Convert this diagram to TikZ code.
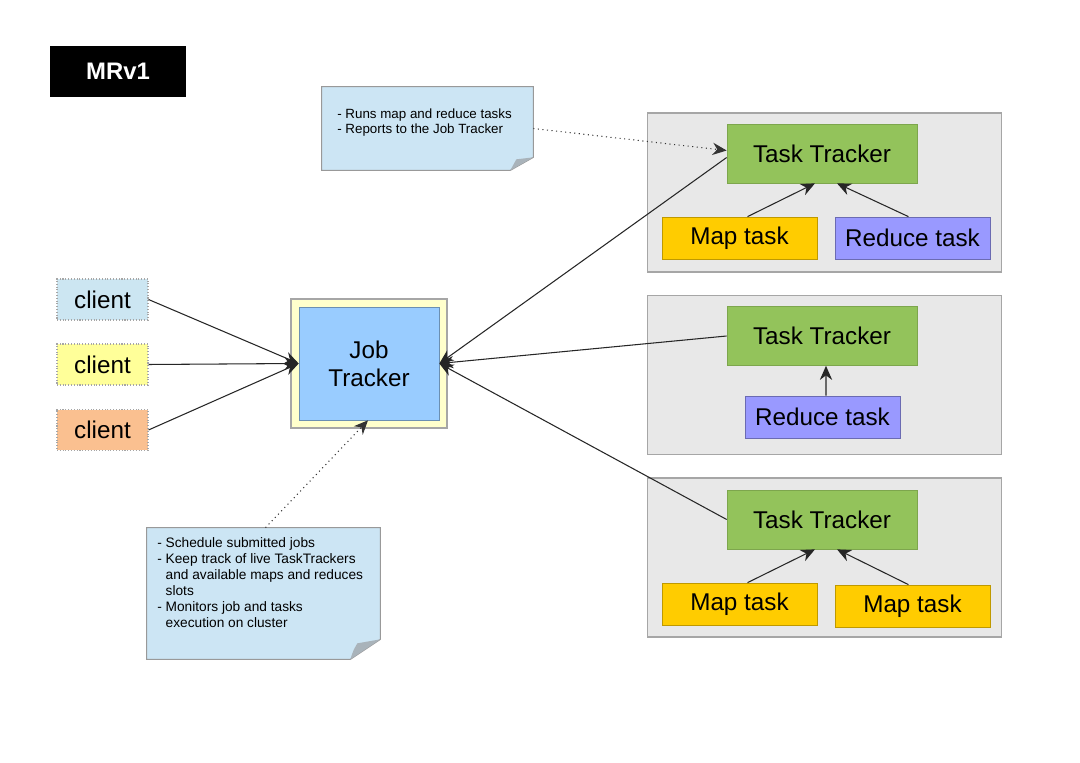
\documentclass[tikz,border=0pt]{standalone}
\usepackage{fontspec}
\setmainfont{Liberation Sans}
\usetikzlibrary{arrows.meta,calc}
\definecolor{grpfill}{HTML}{E8E8E8}
\definecolor{grpdraw}{HTML}{A6A6A6}
\definecolor{ttgreen}{HTML}{93C35B}
\definecolor{mapgold}{HTML}{FFCC00}
\definecolor{redpurple}{HTML}{9999FF}
\definecolor{jtblue}{HTML}{99CCFF}
\definecolor{jtyellow}{HTML}{FFFFCC}
\definecolor{notefill}{HTML}{CCE5F4}
\definecolor{foldfill}{HTML}{A9B3BA}
\definecolor{cblue}{HTML}{CCE6F2}
\definecolor{cyellow}{HTML}{FFFF99}
\definecolor{corange}{HTML}{FAC090}
\tikzset{
  bigfont/.style={font=\fontsize{13.8}{16}\selectfont},
  grp/.style={draw=grpdraw, fill=grpfill, line width=0.6pt, minimum width=7.1cm, minimum height=3.18cm, inner sep=0},
  tt/.style={bigfont, fill=ttgreen, draw=ttgreen!85!black, line width=0.4pt, minimum width=3.8cm, minimum height=1.18cm, inner sep=0},
  maptask/.style={bigfont, fill=mapgold, draw=mapgold!75!black, line width=0.4pt, minimum width=3.1cm, minimum height=0.84cm, inner sep=0},
  redtask/.style={bigfont, fill=redpurple, draw=redpurple!70!black, line width=0.4pt, minimum width=3.1cm, minimum height=0.84cm, inner sep=0},
  clientbox/.style={bigfont, draw=gray!70, densely dotted, line width=0.6pt, minimum width=1.82cm, minimum height=0.82cm, inner sep=0},
  notebox/.style={inner sep=0},
  notetext/.style={inner sep=0, align=left, anchor=north west},
  conn/.style={draw=black!85, line width=0.6pt, -{Stealth[length=8pt,width=7pt]}},
  dotconn/.style={draw=black!80, line width=0.6pt, dotted, -{Stealth[length=8pt,width=7pt]}},
}
\begin{document}
\begin{tikzpicture}[x=0.02cm,y=-0.02cm]
\useasboundingbox[fill=white] (0,0) rectangle (1080,763);

% title
\node[fill=black, text=white, font=\fontsize{13.6}{16}\selectfont\bfseries, minimum width=2.72cm, minimum height=1.02cm, inner sep=0] (title) at (118,71.5) {MRv1};

% groups
\node[grp] (g1) at (824.5,192.5) {};
\node[grp] (g2) at (824.5,375) {};
\node[grp] (g3) at (824.5,557.5) {};

% task trackers
\node[tt] (tt1) at (822,153.5) {Task Tracker};
\node[tt] (tt2) at (822,336) {Task Tracker};
\node[tt] (tt3) at (822,519.5) {Task Tracker};

% tasks
\node[maptask] (m1) at (739.5,238) {Map task};
\node[redtask] (r1) at (912.5,238) {Reduce task};
\node[redtask] (r2) at (822.5,417) {Reduce task};
\node[maptask] (m3a) at (739.5,604) {Map task};
\node[maptask] (m3b) at (912.5,606) {Map task};

% job tracker
\node[draw=grpdraw, fill=jtyellow, line width=0.6pt, minimum width=3.12cm, minimum height=2.58cm, inner sep=0] (jto) at (369,363.5) {};
\node[bigfont, draw=jtblue!70!black, fill=jtblue, line width=0.4pt, minimum width=2.8cm, minimum height=2.26cm, inner sep=0, align=center] (jti) at (369,363.5) {Job\\Tracker};

% clients
\node[clientbox, fill=cblue] (c1) at (102.5,299.5) {client};
\node[clientbox, fill=cyellow] (c2) at (102.5,364.5) {client};
\node[clientbox, fill=corange] (c3) at (102.5,430) {client};

% notes
\node[notebox, minimum width=4.22cm, minimum height=1.66cm] (note1) at (427.5,128.5) {};
\draw[draw=gray!80, fill=notefill, line width=0.6pt]
  (note1.north west) -- (note1.north east) -- ($(note1.south east)+(0,-13)$)
  -- ($(note1.south east)+(-23,0)$) -- (note1.south west) -- cycle;
\fill[foldfill] ($(note1.south east)+(-23,0)$) .. controls ($(note1.south east)+(-20,-6)$) .. ($(note1.south east)+(-17,-11)$)
  .. controls ($(note1.south east)+(-8,-12)$) .. ($(note1.south east)+(0,-13)$) -- cycle;
\node[notetext, font=\fontsize{7.6}{8.6}\selectfont] (note1txt) at (337,108)
  {- Runs map and reduce tasks\\- Reports to the Job Tracker};

\node[notebox, minimum width=4.66cm, minimum height=2.62cm] (note2) at (263.5,593.5) {};
\draw[draw=gray!80, fill=notefill, line width=0.6pt]
  (note2.north west) -- (note2.north east) -- ($(note2.south east)+(0,-20)$)
  -- ($(note2.south east)+(-30,0)$) -- (note2.south west) -- cycle;
\fill[foldfill] ($(note2.south east)+(-30,0)$) .. controls ($(note2.south east)+(-27,-9)$) .. ($(note2.south east)+(-23,-16)$)
  .. controls ($(note2.south east)+(-11,-18)$) .. ($(note2.south east)+(0,-20)$) -- cycle;
\node[notetext, font=\fontsize{7.8}{9.1}\selectfont] (note2txt) at (157,537)
  {- Schedule submitted jobs\\
   - Keep track of live TaskTrackers\\
   \phantom{- }and available maps and reduces\\
   \phantom{- }slots\\
   - Monitors job and tasks\\
   \phantom{- }execution on cluster};

% connectors: clients -> job tracker
\draw[conn] (c1.east) -- (jti.west);
\draw[conn] (c2.east) -- (jti.west);
\draw[conn] (c3.east) -- (jti.west);

% task trackers -> job tracker
\draw[conn] ($(tt1.west)+(0,4)$) -- (jti.east);
\draw[conn] (tt2.west) -- (jti.east);
\draw[conn] (tt3.west) -- (jti.east);

% tasks -> task trackers
\draw[conn] ($(m1.north)+(8,0)$) -- ($(tt1.south)+(-7,0)$);
\draw[conn] ($(r1.north)+(-4,0)$) -- ($(tt1.south)+(15,0)$);
\draw[conn] ($(r2.north)+(3.5,0)$) -- ($(tt2.south)+(4,0)$);
\draw[conn] ($(m3a.north)+(8,0)$) -- ($(tt3.south)+(-7,0)$);
\draw[conn] ($(m3b.north)+(-4,0)$) -- ($(tt3.south)+(15,0)$);

% notes -> trackers
\draw[dotconn] (note1.east) -- ($(tt1.west)+(0,-3)$);
\draw[dotconn] ($(note2.north)+(2,0)$) -- ($(jti.south)+(-1,0)$);
\end{tikzpicture}
\end{document}
